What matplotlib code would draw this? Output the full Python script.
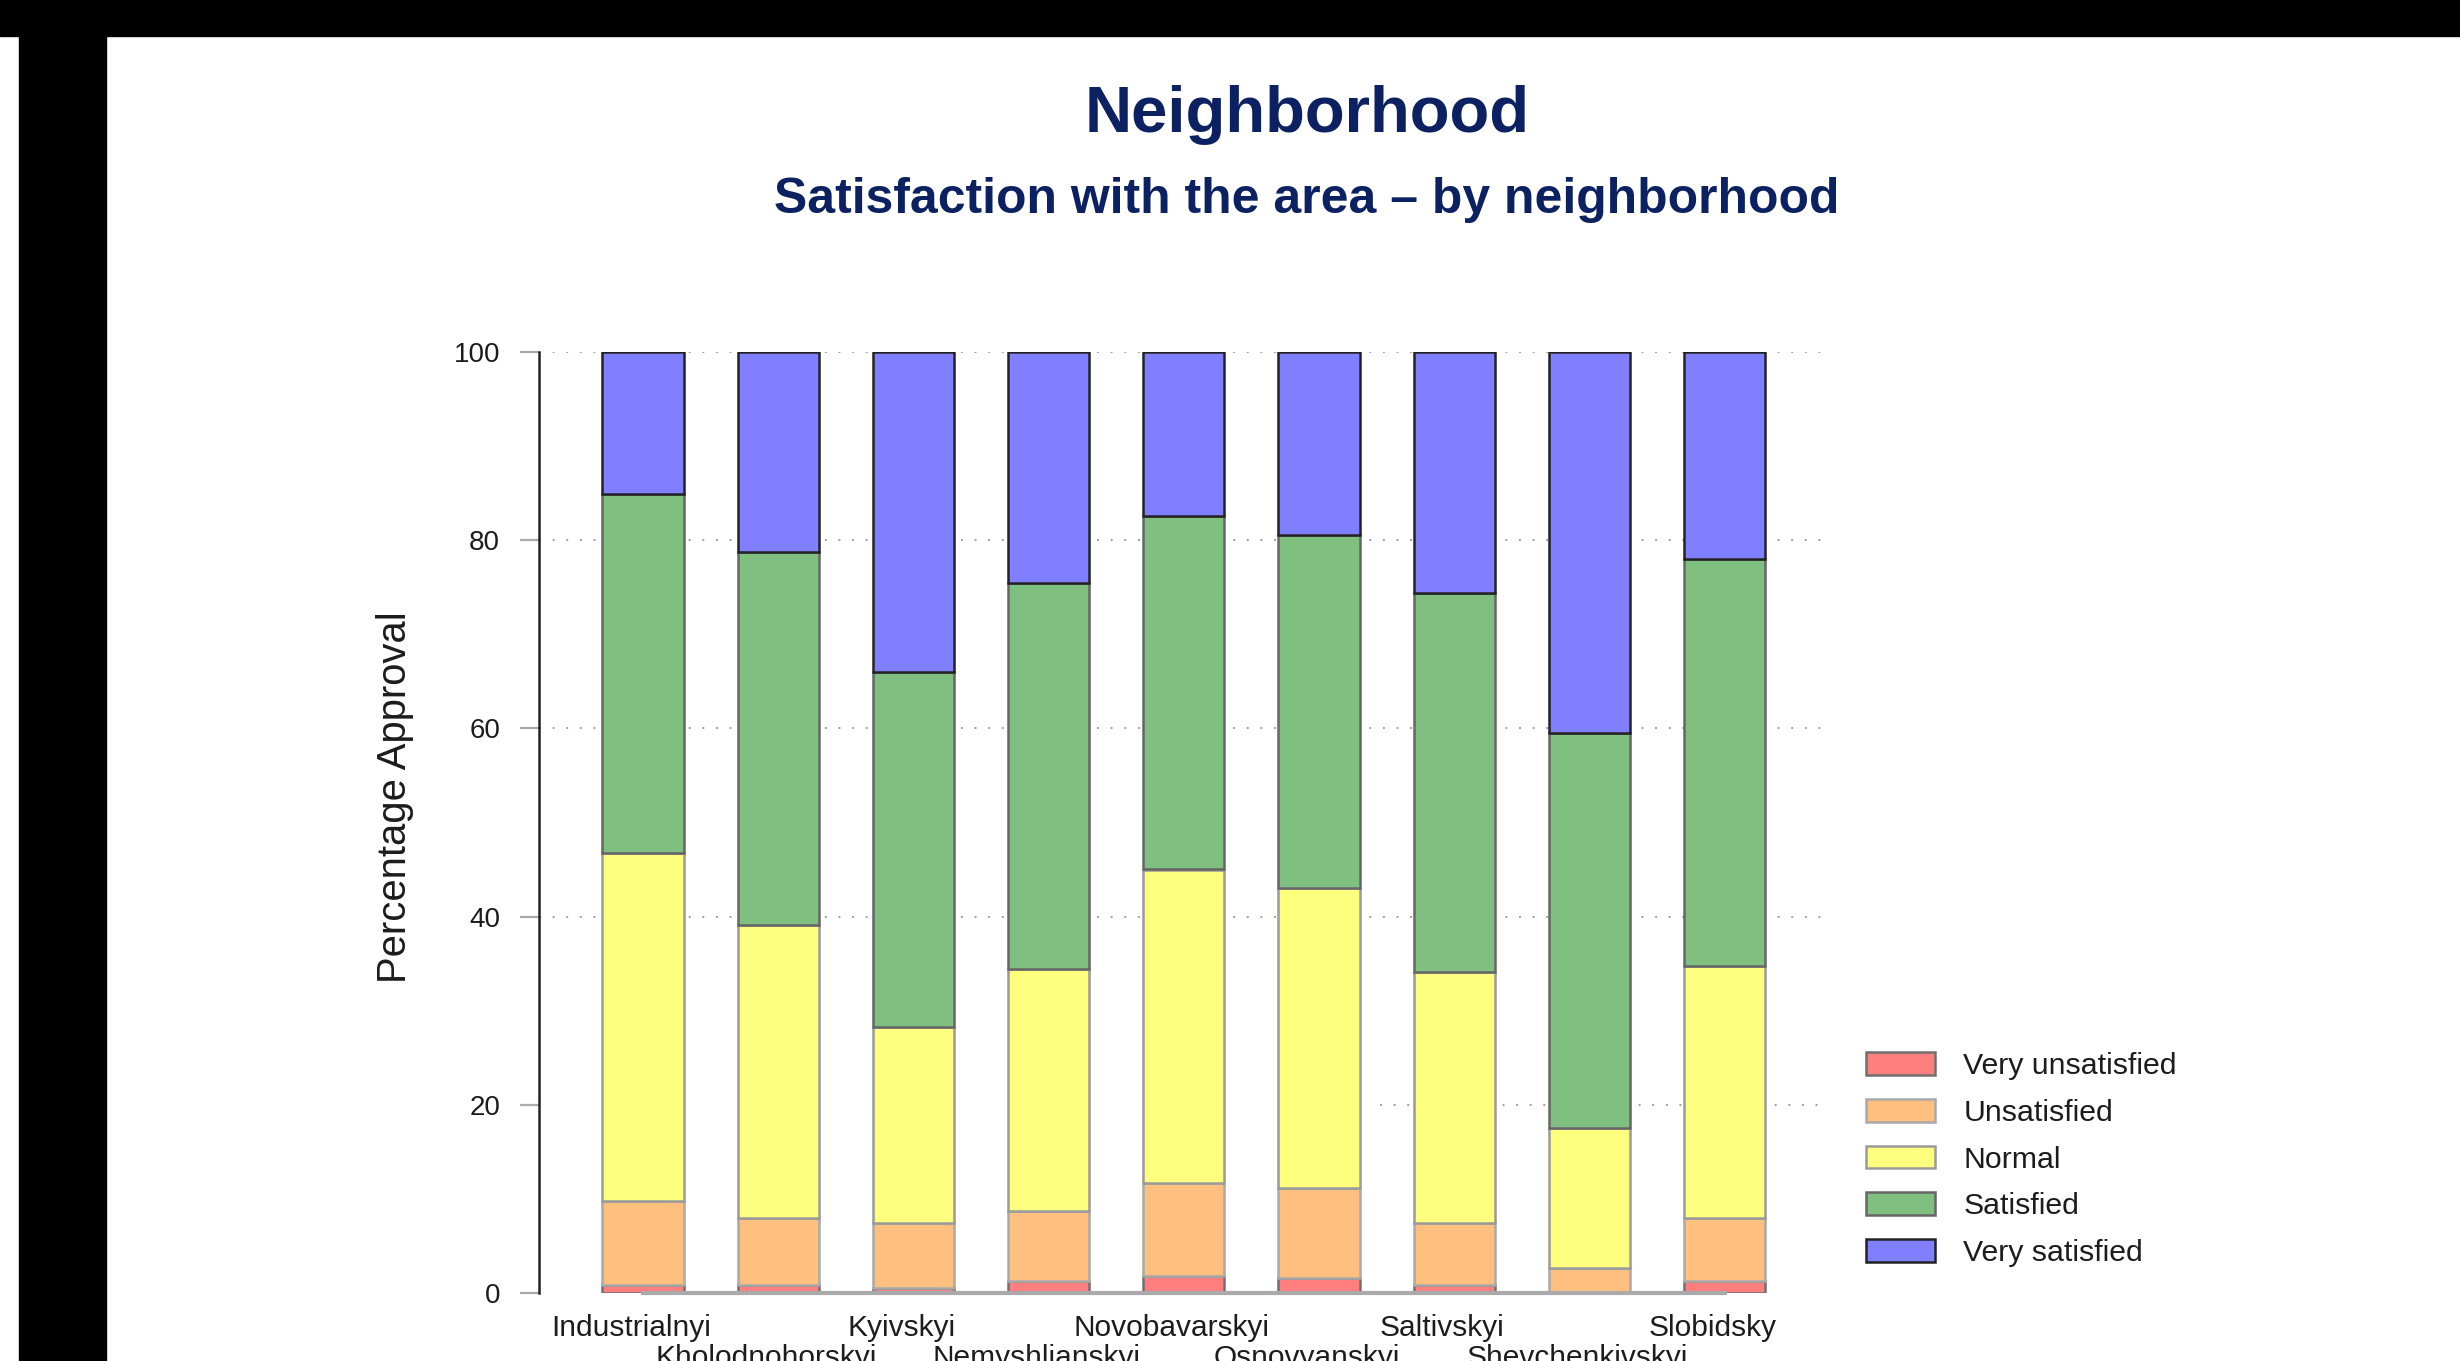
import matplotlib

matplotlib.use("Agg")
import matplotlib.pyplot as plt
import matplotlib.transforms as mtransforms
from matplotlib.patches import Rectangle
import numpy as np

plt.rcParams["font.family"] = ["Liberation Sans", "DejaVu Sans"]

NAVY = "#0c2161"
TEXT = "#1c1c1c"

neighborhoods = [
    "Industrialnyi", "Kholodnohorskyi", "Kyivskyi", "Nemyshlianskyi",
    "Novobavarskyi", "Osnovyanskyi", "Saltivskyi", "Shevchenkivskyi", "Slobidsky",
]
levels = ["Very unsatisfied", "Unsatisfied", "Normal", "Satisfied", "Very satisfied"]

very_unsatisfied = [0.85, 0.85, 0.57, 1.24, 1.77, 1.63, 0.85, 0.0, 1.24]
unsatisfied = [8.95, 7.15, 6.83, 7.51, 9.93, 9.47, 6.55, 2.7, 6.76]
normal = [37.0, 31.1, 20.9, 25.65, 33.3, 31.9, 26.7, 14.8, 26.7]
satisfied = [38.1, 39.6, 37.7, 41.0, 37.6, 37.55, 40.3, 42.0, 43.3]
very_satisfied = [15.1, 21.3, 34.0, 24.6, 17.4, 19.45, 25.6, 40.5, 22.0]

fills = ["#ff7f7f", "#ffbf7f", "#ffff7f", "#7fbf7f", "#7f7fff"]
edges = ["#707070", "#a9a9a9", "#9a9a9a", "#666666", "#222222"]

fig = plt.figure(figsize=(24.6, 13.61), dpi=100, facecolor="white")
ax = fig.add_axes([539 / 2460, 0.05, (1827 - 539) / 2460, (1293 - 352) / 1361])

x = np.arange(len(neighborhoods))
xlo = (539 - 643) / 135.2
xhi = (1827 - 643) / 135.2

# dotted guide lines (the 20 line only shows on the right side in the original)
for yv in [40, 60, 80, 100]:
    ax.hlines(yv, xlo, xhi, colors="#a0a0a0", lw=1.4, linestyles=(0, (1, 6)), zorder=0)
ax.hlines(20, 5.45, xhi, colors="#a0a0a0", lw=1.4, linestyles=(0, (1, 6)), zorder=0)

series = [very_unsatisfied, unsatisfied, normal, satisfied, very_satisfied]
bottom = np.zeros(len(neighborhoods))
for name, vals, fc, ec in zip(levels, series, fills, edges):
    vals = np.array(vals)
    ax.bar(x, vals, 0.6, bottom=bottom, color=fc, edgecolor=ec, linewidth=1.8,
           label=name, zorder=2)
    bottom += vals

ax.set_xlim(xlo, xhi)
ax.set_ylim(0, 100)
ax.set_yticks([0, 20, 40, 60, 80, 100])
ax.tick_params(axis="y", length=14, width=1.6, color="#aaaaaa", pad=14,
               labelsize=20, labelcolor=TEXT)
ax.set_xticks(x)
ax.set_xticklabels([n if i % 2 == 0 else "\n" + n for i, n in enumerate(neighborhoods)],
                   fontsize=21.5, color=TEXT, linespacing=1.12)
ax.tick_params(axis="x", length=0, pad=15)
shift = mtransforms.ScaledTranslation(-12 / 100, 0, fig.dpi_scale_trans)
for lbl in ax.get_xticklabels():
    lbl.set_transform(lbl.get_transform() + shift)

for side in ["top", "right"]:
    ax.spines[side].set_visible(False)
ax.spines["left"].set_color("#222222")
ax.spines["left"].set_linewidth(1.8)
ax.spines["left"].set_bounds(0, 100)
ax.spines["bottom"].set_color("#aaaaaa")
ax.spines["bottom"].set_linewidth(3)
ax.spines["bottom"].set_bounds(0, 8)
ax.spines["bottom"].set_zorder(3)

ax.set_ylabel("Percentage Approval", fontsize=28.8, color=TEXT)
ax.yaxis.set_label_coords(-0.097, 0.527)

fig.text(0.5313, 1 - 132 / 1361, "Neighborhood", ha="center", va="baseline",
         fontsize=47, fontweight="bold", color=NAVY)
fig.text(0.5313, 1 - 213 / 1361, "Satisfaction with the area \u2013 by neighborhood",
         ha="center", va="baseline", fontsize=35.9, fontweight="bold", color=NAVY)

ax.legend(loc="upper left", bbox_to_anchor=(1866 / 2460, 1 - 1052 / 1361),
          bbox_transform=fig.transFigure, frameon=False, fontsize=21.8,
          handlelength=2.27, handleheight=0.77, handletextpad=0.95,
          labelspacing=0.62, borderpad=0, borderaxespad=0, labelcolor=TEXT)

# black strips framing the screenshot
fig.patches.append(Rectangle((0, 1 - 36 / 1361), 1, 36 / 1361, transform=fig.transFigure,
                             color="black", zorder=10))
fig.patches.append(Rectangle((19 / 2460, 0), 87 / 2460, 1 - 36 / 1361,
                             transform=fig.transFigure, color="black", zorder=10))

fig.savefig("out.png", dpi=100, facecolor="white")
